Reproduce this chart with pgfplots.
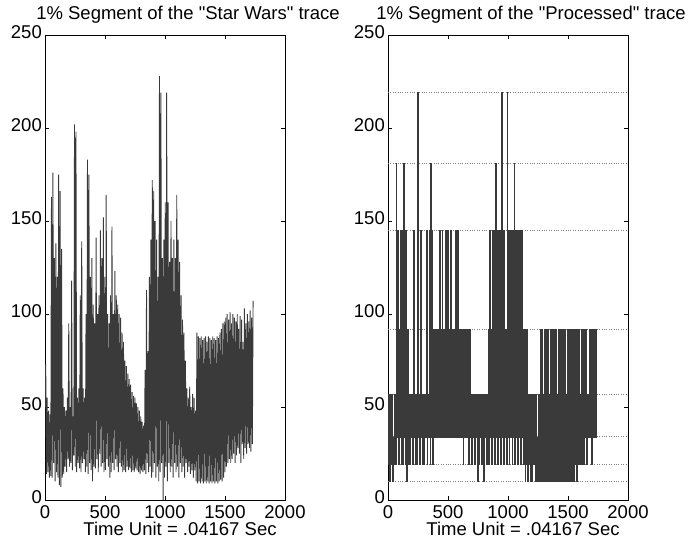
\documentclass[border=0pt]{standalone}
\usepackage{fontspec}
\setmainfont{Liberation Sans}
\newfontfamily\plainfont{Liberation Sans}
\usepackage{pgfplots}
\usepackage{pgfplotstable}
\pgfplotsset{compat=1.18}
\definecolor{trace}{HTML}{3A3A3A}
% Star Wars trace, one value every 6 time units
\pgfplotstableread[row sep=\\,header=false]{
50\\73\\14\\55\\15\\48\\12\\46\\13\\163\\
12\\176\\20\\130\\10\\138\\15\\120\\12\\175\\
8\\166\\7\\135\\12\\60\\14\\50\\18\\48\\
15\\55\\22\\95\\18\\50\\20\\118\\16\\45\\
24\\202\\18\\198\\15\\55\\20\\60\\17\\110\\
15\\139\\20\\60\\22\\55\\15\\100\\18\\183\\
14\\175\\20\\120\\16\\130\\10\\105\\18\\95\\
17\\141\\22\\100\\15\\110\\25\\145\\18\\130\\
20\\152\\15\\120\\16\\164\\22\\100\\18\\95\\
12\\110\\15\\147\\20\\100\\16\\123\\22\\110\\
18\\105\\15\\100\\20\\98\\18\\90\\15\\85\\
16\\75\\15\\72\\18\\68\\16\\65\\17\\62\\
15\\58\\16\\56\\15\\55\\17\\52\\16\\50\\
15\\48\\14\\45\\16\\42\\15\\40\\16\\70\\
14\\113\\20\\80\\15\\120\\18\\140\\12\\172\\
15\\166\\20\\150\\12\\140\\18\\120\\10\\228\\
15\\219\\20\\130\\0\\140\\12\\160\\18\\219\\
10\\160\\20\\128\\15\\150\\18\\130\\12\\140\\
20\\130\\15\\164\\18\\140\\12\\128\\20\\110\\
15\\97\\18\\90\\12\\75\\20\\60\\15\\55\\
18\\61\\14\\50\\16\\57\\12\\55\\16\\48\\
10\\90\\9\\88\\10\\87\\9\\88\\10\\86\\
9\\87\\10\\88\\9\\85\\10\\88\\9\\87\\
10\\86\\9\\88\\10\\87\\9\\86\\10\\88\\
9\\87\\10\\90\\11\\92\\10\\95\\12\\96\\
15\\98\\18\\100\\20\\97\\22\\101\\20\\95\\
22\\100\\25\\98\\20\\96\\24\\100\\28\\92\\
25\\99\\20\\97\\30\\85\\22\\103\\28\\95\\
25\\100\\30\\96\\28\\102\\26\\98\\30\\107\\
}\starwars
% Processed trace, one value every 6 time units
\pgfplotstableread[row sep=\\,header=false]{
19\\57\\10\\57\\19\\57\\10\\34\\19\\57\\
19\\181\\34\\145\\19\\92\\34\\145\\19\\145\\
19\\181\\34\\145\\19\\145\\10\\92\\19\\57\\
19\\57\\34\\57\\19\\145\\34\\57\\19\\57\\
19\\219\\34\\57\\19\\145\\34\\57\\19\\57\\
19\\57\\34\\145\\19\\57\\34\\145\\19\\181\\
34\\145\\19\\92\\34\\92\\34\\92\\34\\92\\
34\\145\\34\\92\\34\\145\\34\\92\\34\\145\\
34\\145\\34\\145\\34\\92\\34\\145\\34\\92\\
34\\92\\34\\145\\34\\145\\34\\145\\34\\92\\
34\\92\\34\\92\\19\\92\\34\\92\\34\\92\\
34\\92\\19\\92\\34\\57\\19\\57\\34\\57\\
19\\57\\34\\57\\10\\57\\19\\57\\34\\57\\
19\\57\\10\\57\\34\\57\\19\\57\\19\\92\\
19\\145\\34\\92\\19\\145\\34\\145\\19\\181\\
34\\145\\19\\145\\34\\145\\19\\219\\34\\145\\
19\\145\\34\\92\\19\\219\\34\\145\\19\\145\\
34\\145\\19\\145\\34\\181\\19\\145\\34\\145\\
19\\145\\34\\145\\19\\145\\34\\92\\19\\92\\
10\\92\\19\\92\\10\\57\\19\\57\\10\\57\\
10\\57\\19\\57\\10\\57\\10\\34\\10\\57\\
10\\92\\10\\92\\10\\57\\10\\92\\10\\92\\
10\\92\\10\\57\\10\\92\\10\\92\\10\\92\\
10\\92\\10\\92\\10\\57\\10\\92\\10\\92\\
10\\92\\10\\92\\10\\92\\10\\57\\10\\92\\
10\\92\\10\\92\\10\\92\\10\\92\\10\\92\\
19\\92\\10\\92\\19\\92\\19\\57\\19\\92\\
19\\92\\19\\92\\34\\92\\19\\57\\34\\92\\
34\\92\\19\\92\\34\\92\\34\\92\\34\\92\\
}\processed
\pgfplotsset{
  traceaxis/.style={
    scale only axis, width=240pt, height=465pt,
    xmin=0, xmax=2000, ymin=0, ymax=250,
    xtick={0,500,1000,1500,2000},
    ytick={0,50,100,150,200,250},
    tick align=inside, major tick length=4pt,
    axis line style={line width=0.8pt},
    every tick/.style={black, line width=0.6pt},
    font=\fontsize{18.5}{21}\selectfont,
    /pgf/number format/assume math mode=true,
    /pgf/number format/1000 sep={},
    scaled ticks=false,
    yticklabel style={inner sep=0pt, xshift=-3pt, yshift=2.5pt},
    xticklabel style={inner sep=0pt, yshift=-5pt},
    title style={at={(axis description cs:0.5,1)}, anchor=base, yshift=10pt, xshift=23pt, font=\plainfont\fontsize{18.5}{21}\selectfont},
    xlabel style={at={(axis description cs:0.5,0)}, anchor=base, yshift=-35pt, xshift=15pt},
    xlabel={Time Unit = .04167 Sec},
  }
}
\begin{document}
\begin{tikzpicture}
\path[use as bounding box] (0,0) rectangle (690pt,542pt);
\begin{axis}[traceaxis, at={(45pt,42pt)}, anchor=south west,
  title={1\% Segment of the "Star Wars" trace}]
\addplot[trace, line width=0.9pt, line join=bevel] table[x expr=\coordindex*6, y index=0] {\starwars};
\end{axis}
\begin{axis}[traceaxis, at={(388pt,42pt)}, anchor=south west,
  title={1\% Segment of the "Processed" trace},
  extra y ticks={10,19,34,57,92,145,181,219},
  extra y tick labels={},
  extra y tick style={major tick length=0pt, grid=major,
    major grid style={dotted, gray, line width=0.6pt}}]
\addplot[trace, line width=0.5pt, const plot] table[x expr=\coordindex*6, y index=0] {\processed};
\end{axis}
\end{tikzpicture}
\end{document}
